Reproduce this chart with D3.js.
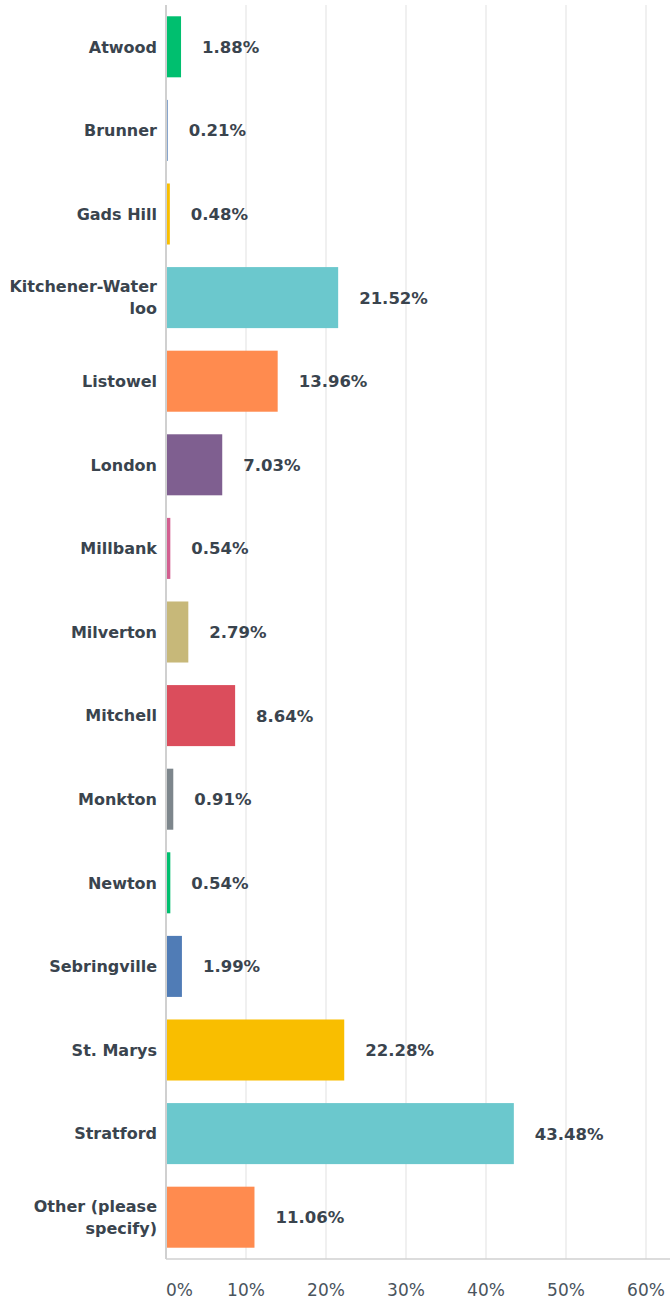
<!DOCTYPE html>
<html>
<head>
<meta charset="utf-8">
<script src="https://cdn.jsdelivr.net/npm/d3@7"></script>
<style>
  body { margin: 0; background: #fff; }
  svg { display: block; font-family: "DejaVu Sans", sans-serif; }
</style>
</head>
<body>
<div id="general"></div>
<script>
const w = 670, h = 1301;
const m = { l: 166, r: 24, t: 5, b: 42 };

const categories = ["Atwood", "Brunner", "Gads Hill", "Kitchener-Water|loo", "Listowel", "London", "Millbank",
  "Milverton", "Mitchell", "Monkton", "Newton", "Sebringville", "St. Marys", "Stratford", "Other (please|specify)"];
const values = [1.88, 0.21, 0.48, 21.52, 13.96, 7.03, 0.54, 2.79, 8.64, 0.91, 0.54, 1.99, 22.28, 43.48, 11.06];
const ticks = [0, 10, 20, 30, 40, 50, 60];
const palette = ["#00BF6F", "#507CB6", "#F9BE00", "#6BC8CD", "#FF8B4F", "#7F5F90", "#D25F90", "#C7B879", "#DB4D5C", "#7D868C"];

const data = categories.map((c, i) => ({ name: c, value: values[i], color: palette[i % palette.length] }));

const svg = d3.select("#general").append("svg").attr("width", w).attr("height", h);

const x = d3.scaleLinear().domain([0, 60]).range([m.l, 646]);
const y = d3.scaleBand().domain(categories).range([m.t, h - m.b]).paddingInner(0.27).paddingOuter(0.135);

// gridlines
svg.append("g").selectAll("line")
  .data(ticks.slice(1))
  .join("line")
    .attr("x1", d => x(d)).attr("x2", d => x(d))
    .attr("y1", m.t).attr("y2", h - m.b)
    .attr("stroke", "#ebebeb")
    .attr("stroke-width", 1.5);

// bars
svg.append("g").selectAll("rect")
  .data(data)
  .join("rect")
    .attr("x", x(0))
    .attr("y", d => y(d.name))
    .attr("width", d => x(d.value) - x(0))
    .attr("height", y.bandwidth())
    .attr("fill", d => d.color);

// axis lines
svg.append("line")
  .attr("x1", x(0)).attr("x2", x(0)).attr("y1", m.t).attr("y2", h - m.b)
  .attr("stroke", "#d0d0d0").attr("stroke-width", 2);
svg.append("line")
  .attr("x1", x(0)).attr("x2", w).attr("y1", h - m.b).attr("y2", h - m.b)
  .attr("stroke", "#d0d0d0").attr("stroke-width", 1.5);

// value labels
svg.append("g").selectAll("text")
  .data(data)
  .join("text")
    .attr("x", d => x(d.value) + 21)
    .attr("y", d => y(d.name) + y.bandwidth() / 2)
    .attr("dy", "0.36em")
    .attr("font-size", 16.5)
    .attr("font-weight", 700)
    .attr("fill", "#3a444e")
    .text(d => d.value.toFixed(2) + "%");

// category labels
const cat = svg.append("g").selectAll("text")
  .data(data)
  .join("text")
    .attr("text-anchor", "end")
    .attr("font-size", 16)
    .attr("font-weight", 700)
    .attr("fill", "#3a444e")
    .attr("transform", d => `translate(157,${y(d.name) + y.bandwidth() / 2})`);

cat.each(function(d) {
  const lines = d.name.split("|");
  const t = d3.select(this);
  lines.forEach((l, i) => {
    t.append("tspan")
      .attr("x", 0)
      .attr("y", (i - (lines.length - 1) / 2) * 22)
      .attr("dy", "0.36em")
      .text(l);
  });
});

// tick labels
svg.append("g").selectAll("text")
  .data(ticks)
  .join("text")
    .attr("x", d => d === 0 ? x(0) : x(d))
    .attr("y", 1290)
    .attr("dy", "0.36em")
    .attr("text-anchor", d => d === 0 ? "start" : "middle")
    .attr("font-size", 17)
    .attr("fill", "#4a545d")
    .text(d => d + "%");
</script>
</body>
</html>
